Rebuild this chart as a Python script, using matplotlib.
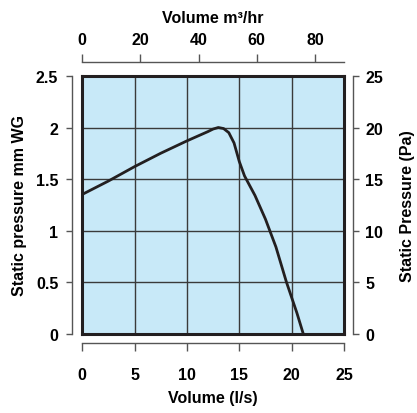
import matplotlib
matplotlib.use("Agg")
import matplotlib.pyplot as plt

# fan curve: volume (l/s) vs static pressure (mm WG)
volume_ls = [0, 2.5, 5, 7.5, 10, 12, 12.5, 13, 13.5, 14, 14.5, 15, 15.5, 16.5, 17.5, 18.5, 19.5, 20.5, 21.1]
pressure_mmwg = [1.35, 1.48, 1.62, 1.75, 1.87, 1.96, 1.985, 2.0, 1.99, 1.95, 1.85, 1.67, 1.53, 1.34, 1.11, 0.84, 0.50, 0.2, 0.0]

x_ticks = [0, 5, 10, 15, 20, 25]
y_ticks = [0, 0.5, 1, 1.5, 2, 2.5]
y_labels = ['0', '0.5', '1', '1.5', '2', '2.5']
top_ticks = [0, 20, 40, 60, 80]
right_ticks = [0, 5, 10, 15, 20, 25]

plt.rcParams['font.family'] = ['Liberation Sans', 'DejaVu Sans']
plt.rcParams['font.weight'] = 'bold'
FS = 11.5

fig = plt.figure(figsize=(4.17, 4.14), dpi=100)
ax = fig.add_axes([0.197, 0.192, 0.628, 0.622])
ax.set_facecolor('#c8e9f8')
ax.set_xlim(0, 25)
ax.set_ylim(0, 2.5)
ax.set_xticks(x_ticks)
ax.set_yticks(y_ticks)
ax.grid(True, color='#3a3a3a', lw=1)
ax.set_axisbelow(True)
ax.tick_params(left=False, bottom=False, labelleft=False, labelbottom=False)
for s in ax.spines.values():
    s.set_linewidth(2.2)
    s.set_color('#231f20')

ax.plot(volume_ls, pressure_mmwg, color='#231f20', lw=2, solid_capstyle='butt')

ident = (lambda v: v, lambda v: v)
left = ax.secondary_yaxis(-0.038, functions=ident)
bottom = ax.secondary_xaxis(-0.037, functions=ident)
top = ax.secondary_xaxis(1.054, functions=(lambda v: v * 3.6, lambda v: v / 3.6))
right = ax.secondary_yaxis(1.034, functions=(lambda v: v * 10, lambda v: v / 10))

left.set_yticks(y_ticks, y_labels)
bottom.set_xticks(x_ticks, [str(v) for v in x_ticks])
top.set_xticks(top_ticks, [str(v) for v in top_ticks])
right.set_yticks(right_ticks, [str(v) for v in right_ticks])

for a in (left, bottom, top, right):
    for s in a.spines.values():
        s.set_color('#555555')
        s.set_linewidth(1)
    a.tick_params(width=1, color='#555555', labelsize=FS)
left.tick_params(length=4, pad=6)
right.tick_params(length=4, pad=5)
bottom.tick_params(length=6, pad=11)
top.tick_params(length=6, pad=5)

left.set_ylabel('Static pressure mm WG', fontsize=FS, fontweight='bold', labelpad=6)
right.set_ylabel('Static Pressure (Pa)', fontsize=FS, fontweight='bold', labelpad=12)
bottom.set_xlabel('Volume (l/s)', fontsize=FS, fontweight='bold', labelpad=6)
top.set_xlabel('Volume m³/hr', fontsize=FS, fontweight='bold', labelpad=7)

fig.canvas.draw()
for a in (left, bottom, top, right):
    for t in a.get_xticklabels() + a.get_yticklabels():
        t.set_fontweight('bold')

fig.savefig('out.png', dpi=100)
